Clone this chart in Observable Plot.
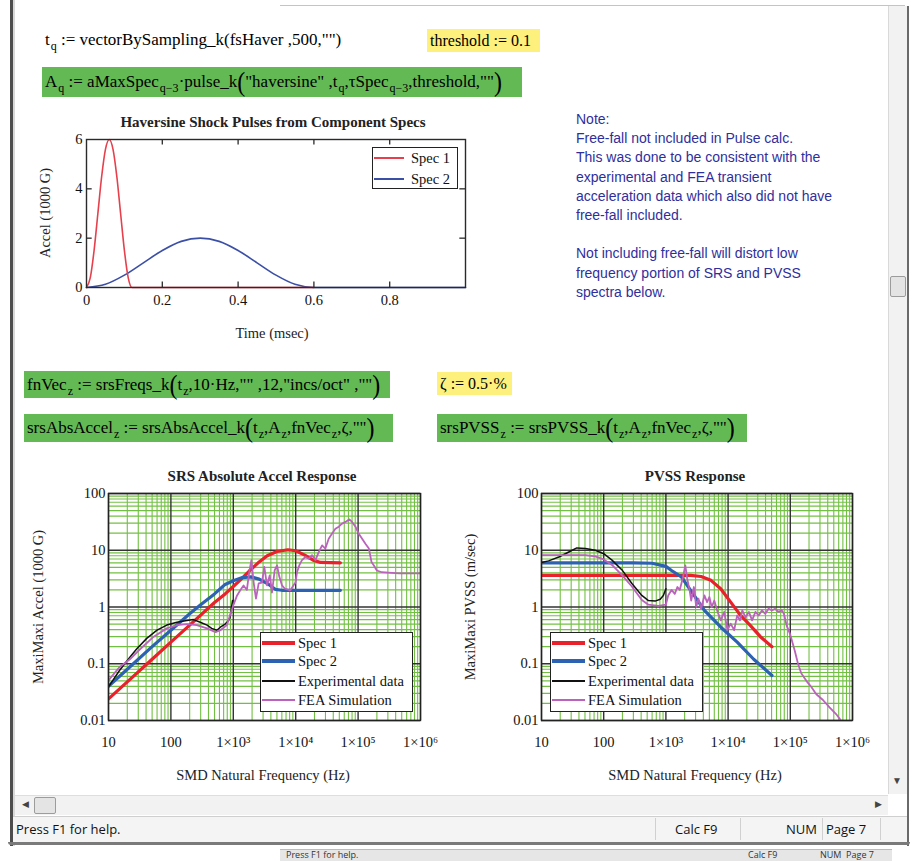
<!DOCTYPE html>
<html><head><meta charset="utf-8">
<script src="https://cdn.jsdelivr.net/npm/d3@7"></script>
<script src="https://cdn.jsdelivr.net/npm/@observablehq/plot@0.6"></script>
<style>
html,body{margin:0;padding:0;background:#fff;}
#page{position:relative;width:918px;height:861px;overflow:hidden;background:#fff;}
.abs{position:absolute;}
.math{font-family:"Liberation Serif",serif;font-size:17px;color:#000;white-space:nowrap;display:flex;align-items:center;box-sizing:border-box;padding-left:3px;}
.math sub{font-size:12px;position:relative;top:6px;vertical-align:baseline;line-height:0;margin-left:1px;}
.bp{font-size:24px;line-height:0;transform:scaleY(1.15);display:inline-block;}
.green{background:#63ba55;}
.yellow{background:#fdf07c;}
.note{font-family:"Liberation Sans",Arial,sans-serif;font-size:14px;color:#2f2f9c;line-height:19.2px;white-space:pre;}
.ctitle{font-family:"Liberation Serif",serif;font-size:15px;font-weight:bold;color:#222;transform:translate(-50%,-50%);white-space:nowrap;}
.clabel{font-family:"Liberation Serif",serif;font-size:14.5px;color:#222;transform:translate(-50%,-50%);white-space:nowrap;}
.ylabel{transform:translate(-50%,-50%) rotate(-90deg);}
.legend{background:#fff;border:1.5px solid #222;box-sizing:border-box;font-family:"Liberation Serif",serif;font-size:14.5px;color:#111;}
.ui{font-family:"Open Sans","Noto Sans",sans-serif;font-size:13px;color:#111;white-space:nowrap;}
</style>
</head>
<body>
<div id="page">
  <!-- window chrome -->
  <div class="abs" style="left:10px;top:0;width:3px;height:846px;background:#4d4d4d;"></div>
  <div class="abs" style="left:13px;top:0;width:2px;height:846px;background:#d8d8d8;"></div>
  <div class="abs" style="left:280px;top:5px;width:625px;height:1px;background:#c4c4c4;"></div>
  <div class="abs" style="left:888px;top:6px;width:18px;height:788px;background:#f2f2f2;border-left:1px solid #d9d9d9;"></div>
  <div class="abs" style="left:890px;top:276px;width:14px;height:19px;background:#e4e4e4;border:1px solid #9c9c9c;border-radius:2px;"></div>
  <div class="abs ui" style="left:892px;top:773px;font-size:10px;color:#444;">▼</div>
  <div class="abs" style="left:907px;top:6px;width:2px;height:840px;background:#6a6a6a;"></div>
  <div class="abs" style="left:15px;top:795px;width:873px;height:19px;background:#f2f2f2;border-top:1px solid #dedede;"></div>
  <div class="abs ui" style="left:22px;top:797px;font-size:9px;color:#444;">◀</div>
  <div class="abs" style="left:34px;top:797px;width:20px;height:15px;background:#e4e4e4;border:1px solid #9c9c9c;border-radius:2px;"></div>
  <div class="abs ui" style="left:875px;top:797px;font-size:9px;color:#444;">▶</div>
  <div class="abs" style="left:13px;top:816px;width:894px;height:26px;background:#f4f4f4;border-top:1px solid #cfcfcf;"></div>
  <div class="abs ui" style="left:16px;top:820px;">Press F1 for help.</div>
  <div class="abs" style="left:655px;top:818px;width:1px;height:22px;background:#d0d0d0;"></div>
  <div class="abs ui" style="left:675px;top:820px;">Calc F9</div>
  <div class="abs" style="left:740px;top:818px;width:1px;height:22px;background:#d0d0d0;"></div>
  <div class="abs ui" style="left:786px;top:820px;">NUM</div>
  <div class="abs" style="left:822px;top:818px;width:1px;height:22px;background:#d0d0d0;"></div>
  <div class="abs ui" style="left:826px;top:820px;">Page 7</div>
  <div class="abs" style="left:880px;top:818px;width:1px;height:22px;background:#d0d0d0;"></div>
  <div class="abs" style="left:8px;top:842px;width:902px;height:3px;background:#7a7a7a;border-radius:0 0 4px 4px;"></div>
  <div class="abs" style="left:280px;top:849px;width:612px;height:12px;background:#e6e6e6;border-top:1px solid #bbb;"></div>
  <div class="abs ui" style="left:286px;top:848px;font-size:9px;color:#333;">Press F1 for help.</div>
  <div class="abs ui" style="left:748px;top:848px;font-size:9px;color:#333;">Calc F9</div>
  <div class="abs ui" style="left:820px;top:848px;font-size:9px;color:#333;">NUM&nbsp; Page 7</div>

  <!-- worksheet math -->
  <div class="abs math" style="left:42px;top:28px;height:24px;">t<sub>q</sub>&nbsp;:= vectorBySampling_k(fsHaver ,500,"")</div>
  <div class="abs math yellow" style="left:427px;top:29px;width:113px;height:23px;font-size:16px;">threshold := 0.1</div>
  <div class="abs math green" style="left:42px;top:67px;width:480px;height:30px;">A<sub>q</sub>&nbsp;:= aMaxSpec<sub>q−3</sub>·pulse_k<span class="bp">(</span>"haversine" ,t<sub>q</sub>,τSpec<sub>q−3</sub>,threshold,""<span class="bp">)</span></div>
  <div class="abs math green" style="left:24px;top:371px;width:366px;height:27px;">fnVec<sub>z</sub>&nbsp;:= srsFreqs_k<span class="bp">(</span>t<sub>z</sub>,10·Hz,"" ,12,"incs/oct" ,""<span class="bp">)</span></div>
  <div class="abs math yellow" style="left:437px;top:372px;width:75px;height:23px;font-size:16px;">ζ := 0.5·%</div>
  <div class="abs math green" style="left:24px;top:414px;width:369px;height:28px;">srsAbsAccel<sub>z</sub>&nbsp;:= srsAbsAccel_k<span class="bp">(</span>t<sub>z</sub>,A<sub>z</sub>,fnVec<sub>z</sub>,ζ,""<span class="bp">)</span></div>
  <div class="abs math green" style="left:437px;top:414px;width:310px;height:28px;">srsPVSS<sub>z</sub>&nbsp;:= srsPVSS_k<span class="bp">(</span>t<sub>z</sub>,A<sub>z</sub>,fnVec<sub>z</sub>,ζ,""<span class="bp">)</span></div>

  <div class="abs note" style="left:576px;top:110px;">Note:
Free-fall not included in Pulse calc.
This was done to be consistent with the
experimental and FEA transient
acceleration data which also did not have
free-fall included.

Not including free-fall will distort low
frequency portion of SRS and PVSS
spectra below.</div>

  <!-- chart titles & axis labels -->
  <div class="abs ctitle" style="left:273px;top:122px;">Haversine Shock Pulses from Component Specs</div>
  <div class="abs clabel" style="left:272px;top:333px;">Time (msec)</div>
  <div class="abs clabel ylabel" style="left:45px;top:213px;">Accel (1000 G)</div>

  <div class="abs ctitle" style="left:262px;top:476px;">SRS Absolute Accel Response</div>
  <div class="abs clabel" style="left:263px;top:775px;">SMD Natural Frequency (Hz)</div>
  <div class="abs clabel ylabel" style="left:38px;top:607px;">MaxiMaxi Accel (1000 G)</div>

  <div class="abs ctitle" style="left:695px;top:476px;">PVSS Response</div>
  <div class="abs clabel" style="left:695px;top:775px;">SMD Natural Frequency (Hz)</div>
  <div class="abs clabel ylabel" style="left:470px;top:607px;">MaxiMaxi PVSS (m/sec)</div>
</div>

<script>
// ---------- Haversine pulses (time in msec, accel in 1000 G) ----------
const pulseTime1  = [0, 0.01, 0.02, 0.03, 0.04, 0.05, 0.06, 0.07, 0.08, 0.09, 0.10, 0.11, 0.12, 0.6];
const pulseAccel1 = [0, 0.4, 1.5, 3.0, 4.5, 5.6, 6.0, 5.6, 4.5, 3.0, 1.5, 0.4, 0, 0];
const pulseTime2  = [0, 0.05, 0.1, 0.15, 0.2, 0.25, 0.3, 0.35, 0.4, 0.45, 0.5, 0.55, 0.6, 1.0];
const pulseAccel2 = [0, 0.13, 0.5, 1.0, 1.5, 1.87, 2.0, 1.87, 1.5, 1.0, 0.5, 0.13, 0, 0];
const timeTicks  = [0, 0.2, 0.4, 0.6, 0.8];
const accelTicks = [0, 2, 4, 6];

// ---------- SRS absolute acceleration (Hz, 1000 G) ----------
const srsSpec1Freq = [10, 20, 50, 100, 200, 500, 740, 1000, 1300, 1800, 2500, 3500, 5000, 7500, 10000, 14000, 19000, 25000, 52000];
const srsSpec1Val  = [0.024, 0.048, 0.12, 0.24, 0.48, 1.2, 1.7, 2.3, 3.0, 4.3, 6.0, 8.0, 9.5, 10.2, 9.8, 8.2, 6.7, 6.1, 6.0];
const srsSpec2Freq = [10, 20, 50, 100, 200, 300, 500, 740, 1000, 1400, 1900, 2600, 3700, 4700, 6000, 10000, 52000];
const srsSpec2Val  = [0.04, 0.08, 0.2, 0.39, 0.76, 1.1, 1.7, 2.5, 2.9, 3.3, 3.4, 3.1, 2.5, 2.05, 1.97, 1.97, 1.97];
const srsExpFreq = [10, 15, 22, 28, 41, 60, 86, 125, 180, 230, 295, 380, 450, 545, 620, 740, 840, 890, 930, 970];
const srsExpVal  = [0.039, 0.076, 0.13, 0.18, 0.28, 0.39, 0.48, 0.54, 0.58, 0.6, 0.54, 0.48, 0.42, 0.39, 0.44, 0.5, 0.58, 0.66, 0.93, 1.3];
const srsFeaFreq = [10, 15, 22, 32, 53, 86, 125, 180, 260, 380, 520, 620, 790, 900, 1000, 1150, 1300, 1460, 1650, 1800,
  1950, 2120, 2310, 2550, 2880, 3140, 3470, 3830, 4170, 4600, 5020, 5470, 6040, 6700, 8200, 9900, 10500, 11400, 12600, 14300,
  16200, 18300, 20700, 23400, 26500, 29900, 33800, 38300, 43300, 49000, 55400, 62600, 72500, 80100, 90700, 102000, 116000, 131000, 149000, 164000,
  179000, 200000, 240000, 450000, 1000000];
const srsFeaVal  = [0.051, 0.087, 0.12, 0.18, 0.3, 0.42, 0.48, 0.5, 0.48, 0.42, 0.36, 0.39, 0.48, 0.75, 1.07, 1.6, 2.0, 2.4, 2.0, 4.1,
  6.7, 2.7, 1.4, 2.6, 2.7, 5.1, 2.4, 3.6, 1.8, 4.4, 5.4, 3.4, 2.4, 2.1, 1.97, 2.7, 4.1, 5.4, 6.7, 7.6,
  7.1, 8.2, 6.7, 9.3, 12.2, 10.7, 16, 19.7, 24, 26, 29.5, 31.6, 35, 31.6, 26, 19.7, 16, 13, 10.7, 6.2,
  5.4, 4.4, 4.1, 3.9, 3.9];

// ---------- PVSS (Hz, m/sec) ----------
const pvssSpec1Freq = [10, 1000, 2500, 3680, 5300, 7600, 11000, 15900, 22900, 33000, 50700];
const pvssSpec1Val  = [3.6, 3.6, 3.6, 3.45, 2.95, 2.1, 1.22, 0.71, 0.47, 0.30, 0.2];
const pvssSpec2Freq = [10, 300, 600, 1000, 1230, 1770, 2550, 4160, 7650, 14000, 25800, 50700];
const pvssSpec2Val  = [6.0, 6.0, 5.9, 5.2, 4.4, 3.4, 1.9, 0.87, 0.44, 0.24, 0.12, 0.062];
const pvssExpFreq = [10, 13, 19, 27.5, 37, 51, 73, 100, 136, 197, 284, 410, 524, 670, 810, 910, 1000];
const pvssExpVal  = [6.1, 6.5, 7.6, 9.3, 11, 10.7, 10, 8.7, 6.7, 4.5, 2.6, 1.6, 1.3, 1.27, 1.37, 1.6, 2.1];
const pvssFeaFreq = [10, 51, 73, 100, 136, 197, 284, 410, 524, 760, 1000, 1090, 1230, 1390, 1530, 1670, 1880, 2050, 2200, 2400,
  2550, 2820, 3070, 3340, 3680, 4160, 4590, 5000, 5440, 6000, 6780, 7650, 8650, 9770, 11000, 12500, 14000, 15500, 16900, 19100,
  21600, 24300, 27500, 31000, 35000, 39600, 44700, 50700, 57000, 64500, 73000, 79000, 87400, 98600, 118000, 133000, 150000, 181000, 218000, 262000,
  335000, 427000, 545000, 652000];
const pvssFeaVal  = [8.2, 8.2, 7.8, 6.9, 5.5, 3.65, 2.3, 1.33, 1.1, 1.05, 1.1, 1.6, 2.0, 1.7, 2.25, 2.0, 3.35, 5.4, 3.15, 2.0,
  1.3, 2.25, 1.0, 1.4, 0.93, 1.6, 1.22, 1.5, 1.0, 1.3, 0.82, 0.58, 0.82, 0.39, 0.51, 0.39, 0.71, 0.58, 0.87, 0.66,
  0.82, 0.58, 0.82, 0.71, 0.87, 0.76, 0.93, 0.87, 0.93, 0.82, 0.87, 0.76, 0.47, 0.34, 0.17, 0.1, 0.068, 0.05, 0.039, 0.029,
  0.023, 0.017, 0.013, 0.01];

const freqTicks = [10, 100, 1000, 10000, 100000, 1000000];
const freqTickLabels = ["10", "100", "1×10³", "1×10⁴", "1×10⁵", "1×10⁶"];
const respTicks = [0.01, 0.1, 1, 10, 100];
const respTickLabels = ["0.01", "0.1", "1", "10", "100"];

const seriesNames  = ["Spec 1", "Spec 2", "Experimental data", "FEA Simulation"];
const seriesColors = ["#e8212b", "#2d62b3", "#111111", "#bb62bd"];
const seriesWidths = [3.2, 3.2, 1.5, 1.8];
const pulseNames  = ["Spec 1", "Spec 2"];
const pulseColors = ["#e6404c", "#3b4fa6"];

// ---------- helpers ----------
const page = document.getElementById("page");
const rows = (xs, ys) => xs.map((x, i) => ({x, y: ys[i]}));
function place(node, left, top) {
  node.style.position = "absolute";
  node.style.left = left + "px";
  node.style.top = top + "px";
  page.appendChild(node);
}
function legend(left, top, width, height, names, colors, widths, swLeft, swWidth, textLeft, rowCenters) {
  const box = document.createElement("div");
  box.className = "legend";
  box.style.width = width + "px";
  box.style.height = height + "px";
  names.forEach((n, i) => {
    const sw = document.createElement("div");
    sw.className = "abs";
    sw.style.left = swLeft + "px";
    sw.style.top = (rowCenters[i] - widths[i] / 2) + "px";
    sw.style.width = swWidth + "px";
    sw.style.height = widths[i] + "px";
    sw.style.background = colors[i];
    box.appendChild(sw);
    const t = document.createElement("div");
    t.className = "abs";
    t.style.left = textLeft + "px";
    t.style.top = (rowCenters[i] - 9) + "px";
    t.style.lineHeight = "18px";
    t.style.whiteSpace = "nowrap";
    t.textContent = n;
    box.appendChild(t);
  });
  place(box, left, top);
}

const plotStyle = {fontFamily: "'Liberation Serif', serif", fontSize: "14.5px", color: "#111", background: "transparent", overflow: "visible"};

// ---------- Haversine chart ----------
const pulse1 = rows(pulseTime1, pulseAccel1);
const pulse2 = rows(pulseTime2, pulseAccel2);
const pulseChart = Plot.plot({
  width: 460, height: 245,
  marginLeft: 66, marginRight: 15, marginTop: 34, marginBottom: 63,
  style: plotStyle,
  x: {domain: [0, 1]},
  y: {domain: [0, 6]},
  marks: [
    Plot.line(pulse2, {x: "x", y: "y", stroke: pulseColors[1], strokeWidth: 1.6, curve: "monotone-x"}),
    Plot.line(pulse1, {x: "x", y: "y", stroke: pulseColors[0], strokeWidth: 1.6, curve: "monotone-x"}),
    Plot.frame({stroke: "#2a2a2a", strokeWidth: 1.4}),
    Plot.ruleX(timeTicks.slice(1), {y1: 6, y2: 5.78, stroke: "#2a2a2a", strokeWidth: 1.3}),
    Plot.ruleX(timeTicks.slice(1), {y1: 0, y2: 0.22, stroke: "#2a2a2a", strokeWidth: 1.3}),
    Plot.ruleY(accelTicks.slice(1, 3), {x1: 0, x2: 0.015, stroke: "#2a2a2a", strokeWidth: 1.3}),
    Plot.ruleY(accelTicks.slice(1, 3), {x1: 1, x2: 0.985, stroke: "#2a2a2a", strokeWidth: 1.3}),
    Plot.axisX({ticks: timeTicks, tickSize: 0, tickPadding: 7, tickFormat: d => String(d), label: null, fontSize: 14.5}),
    Plot.axisY({ticks: accelTicks, tickSize: 0, tickPadding: 4, tickFormat: d => String(d), label: null, fontSize: 14.5})
  ]
});
place(pulseChart, 20, 105);
legend(372, 147, 86, 42, pulseNames, pulseColors, [1.6, 1.6], 1, 30, 38, [10, 31]);

// ---------- log charts ----------
const minorFreq = d3.range(1, 6).flatMap(n => d3.range(2, 10).map(k => k * Math.pow(10, n)));
const minorResp = d3.range(-2, 2).flatMap(n => d3.range(2, 10).map(k => +(k * Math.pow(10, n)).toPrecision(3)));

function logChart(series, opts) {
  return Plot.plot({
    width: opts.width, height: 330,
    marginLeft: opts.ml, marginRight: opts.mr, marginTop: 33, marginBottom: 70,
    style: plotStyle,
    x: {type: "log", domain: [10, 1e6]},
    y: {type: "log", domain: [0.01, 100]},
    marks: [
      Plot.frame({fill: "#fff"}),
      Plot.ruleX(minorFreq, {stroke: "#72c043", strokeWidth: 1.1}),
      Plot.ruleY(minorResp, {stroke: "#72c043", strokeWidth: 1.1}),
      Plot.ruleX(freqTicks, {stroke: "#333", strokeWidth: 1.4}),
      Plot.ruleY(respTicks, {stroke: "#333", strokeWidth: 1.4}),
      ...series.map((s, i) => Plot.line(s, {x: "x", y: "y", stroke: seriesColors[i], strokeWidth: seriesWidths[i], clip: true, strokeLinejoin: "round"})),
      Plot.frame({stroke: "#222", strokeWidth: 1.4}),
      Plot.axisX({ticks: freqTicks, tickSize: 0, tickPadding: 16, tickFormat: d => freqTickLabels[freqTicks.indexOf(d)], label: null, fontSize: 14.5}),
      Plot.axisY({ticks: respTicks, tickSize: 0, tickPadding: 3, tickFormat: d => respTickLabels[respTicks.indexOf(d)], label: null, fontSize: 14.5})
    ]
  });
}

const srsSeries = [
  rows(srsSpec1Freq, srsSpec1Val),
  rows(srsSpec2Freq, srsSpec2Val),
  rows(srsExpFreq, srsExpVal),
  rows(srsFeaFreq, srsFeaVal)
];
place(logChart(srsSeries, {width: 430, ml: 88, mr: 30}), 20, 460);
legend(260, 632, 153, 80, seriesNames, seriesColors, seriesWidths, 1, 33, 37, [10, 28, 48, 67]);

const pvssSeries = [
  rows(pvssSpec1Freq, pvssSpec1Val),
  rows(pvssSpec2Freq, pvssSpec2Val),
  rows(pvssExpFreq, pvssExpVal),
  rows(pvssFeaFreq, pvssFeaVal)
];
place(logChart(pvssSeries, {width: 440, ml: 91, mr: 38}), 450, 460);
legend(550, 632, 153, 80, seriesNames, seriesColors, seriesWidths, 1, 33, 37, [10, 28, 48, 67]);
</script>
</body></html>
